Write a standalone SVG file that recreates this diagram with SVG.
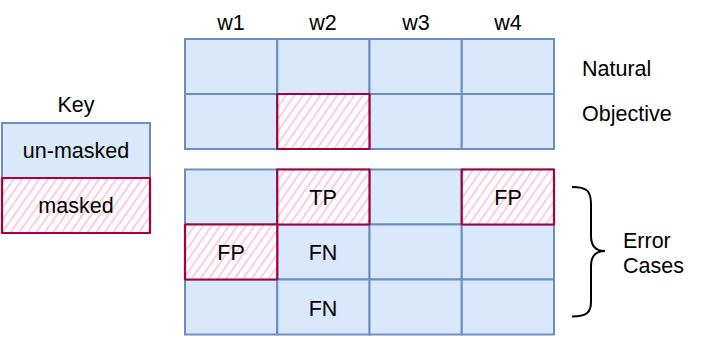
<svg xmlns="http://www.w3.org/2000/svg" width="706" height="339" viewBox="0 0 706 339">
<style>
  text { font-family: "Liberation Sans", Arial, sans-serif; font-size: 21.5px; fill: #000; }
  .c { text-anchor: middle; }
  .cell { fill: #dae8fc; stroke: #6c8ebf; stroke-width: 2; }
  .mask { fill: url(#hatch); stroke: #a50040; stroke-width: 2.2; stroke-linejoin: round; }
</style>
<defs>
  <pattern id="hatch" patternUnits="userSpaceOnUse" width="7" height="7" patternTransform="rotate(35)">
    <rect width="7" height="7" fill="#ffffff"/>
    <line x1="2" y1="0" x2="2" y2="7" stroke="#ffc6df" stroke-width="1.8"/>
  </pattern>
</defs>
<rect width="706" height="339" fill="#ffffff"/>

<g id="key">
  <text class="c" x="76" y="112">Key</text>
  <rect class="cell" x="2" y="123" width="148" height="55"/>
  <text class="c" x="76" y="158">un-masked</text>
  <rect class="mask" x="2" y="178" width="148" height="55"/>
  <text class="c" x="76" y="213">masked</text>
</g>

<g id="headers">
  <text class="c" x="231" y="30">w1</text>
  <text class="c" x="323" y="30">w2</text>
  <text class="c" x="416" y="30">w3</text>
  <text class="c" x="508" y="30">w4</text>
</g>

<g id="top-grid">
  <rect class="cell" x="185" y="39" width="92.25" height="55"/>
  <rect class="cell" x="277.25" y="39" width="92.25" height="55"/>
  <rect class="cell" x="369.5" y="39" width="92.25" height="55"/>
  <rect class="cell" x="461.75" y="39" width="92.25" height="55"/>
  <rect class="cell" x="185" y="94" width="92.25" height="55"/>
  <rect class="cell" x="277.25" y="94" width="92.25" height="55"/>
  <rect class="cell" x="369.5" y="94" width="92.25" height="55"/>
  <rect class="cell" x="461.75" y="94" width="92.25" height="55"/>
  <rect class="mask" x="277.25" y="94" width="92.25" height="55"/>
</g>

<g id="row-labels">
  <text x="582" y="76">Natural</text>
  <text x="582" y="121">Objective</text>
</g>

<g id="bottom-grid">
  <rect class="cell" x="185" y="169.5" width="92.25" height="55"/>
  <rect class="cell" x="277.25" y="169.5" width="92.25" height="55"/>
  <rect class="cell" x="369.5" y="169.5" width="92.25" height="55"/>
  <rect class="cell" x="461.75" y="169.5" width="92.25" height="55"/>
  <rect class="cell" x="185" y="224.5" width="92.25" height="55"/>
  <rect class="cell" x="277.25" y="224.5" width="92.25" height="55"/>
  <rect class="cell" x="369.5" y="224.5" width="92.25" height="55"/>
  <rect class="cell" x="461.75" y="224.5" width="92.25" height="55"/>
  <rect class="cell" x="185" y="279.5" width="92.25" height="55"/>
  <rect class="cell" x="277.25" y="279.5" width="92.25" height="55"/>
  <rect class="cell" x="369.5" y="279.5" width="92.25" height="55"/>
  <rect class="cell" x="461.75" y="279.5" width="92.25" height="55"/>
  <rect class="mask" x="277.25" y="169.5" width="92.25" height="55"/>
  <rect class="mask" x="461.75" y="169.5" width="92.25" height="55"/>
  <rect class="mask" x="185" y="224.5" width="92.25" height="55"/>
  <text class="c" x="323" y="205">TP</text>
  <text class="c" x="508" y="205">FP</text>
  <text class="c" x="231" y="260">FP</text>
  <text class="c" x="323" y="260">FN</text>
  <text class="c" x="323" y="316">FN</text>
</g>

<g id="error-brace">
  <path d="M572,187 C587,187 591,191 591,204 L591,236 C591,246 595,251 605,251 C595,251 591,256 591,266 L591,302 C591,312 587,316.5 572,316.5" fill="none" stroke="#000" stroke-width="2"/>
  <text x="623" y="248">Error</text>
  <text x="623" y="273">Cases</text>
</g>
</svg>
